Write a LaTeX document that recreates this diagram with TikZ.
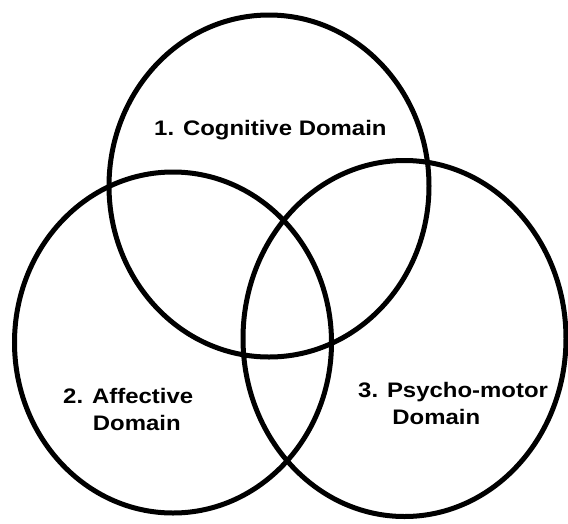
\documentclass[tikz,border=0pt]{standalone}
\usepackage{fontspec}
\setmainfont{Liberation Sans}
\usetikzlibrary{shapes.geometric}
\begin{document}
\begin{tikzpicture}[x=1pt,y=-1pt,
  ring/.style={ellipse,draw=black,line width=5pt,inner sep=0pt},
  lbl/.style={inner sep=0pt,anchor=base west,font=\fontsize{21}{27}\selectfont\bfseries}]
\useasboundingbox[fill=white] (0,0) rectangle (568,523);
\node[ring,minimum width=320pt,minimum height=342pt] (cog) at (269,186) {};
\node[ring,minimum width=317pt,minimum height=341pt] (aff) at (173,342.5) {};
\node[ring,minimum width=323pt,minimum height=356pt] (psy) at (404.5,338.5) {};
\node[lbl] (tcog) at (154,135) {\scalebox{1.14}[1]{1. Cognitive Domain}};
\node[lbl] (taff) at (63,403) {\scalebox{1.14}[1]{\begin{tabular}[t]{@{}l@{}}2. Affective\\\hspace*{26pt}Domain\end{tabular}}};
\node[lbl] (tpsy) at (358,397) {\scalebox{1.14}[1]{\begin{tabular}[t]{@{}l@{}}3. Psycho-motor\\\hspace*{30pt}Domain\end{tabular}}};
\end{tikzpicture}
\end{document}
